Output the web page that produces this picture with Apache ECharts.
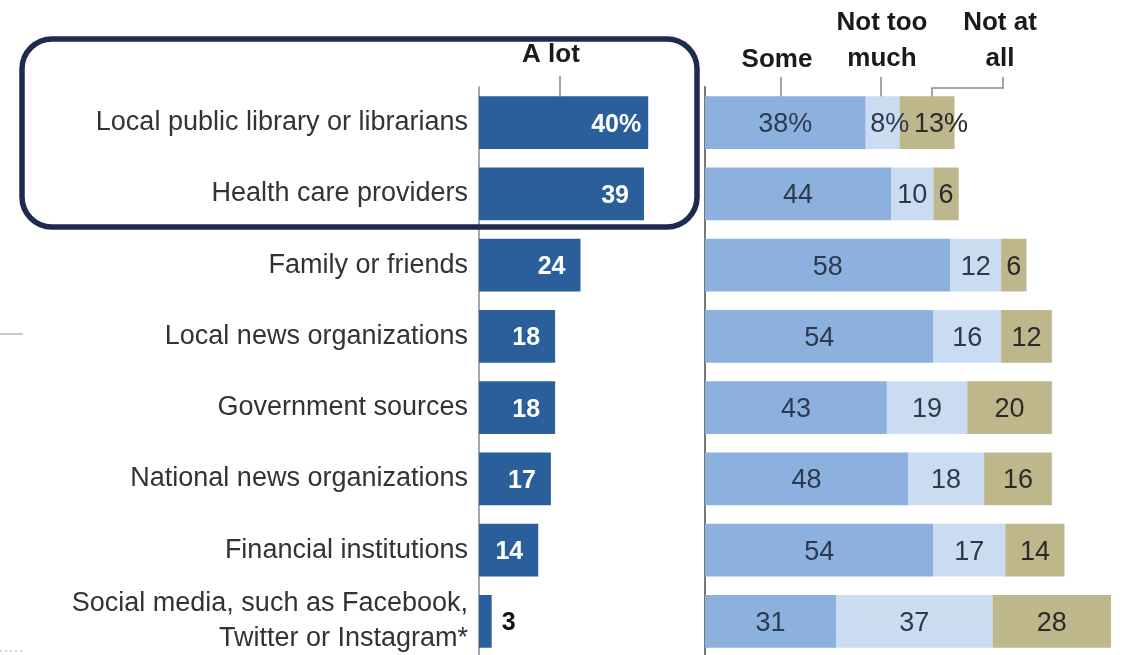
<!DOCTYPE html>
<html><head><meta charset="utf-8">
<script src="https://cdn.jsdelivr.net/npm/echarts@6/dist/echarts.min.js"></script>
<style>html,body{margin:0;padding:0;background:#fff}#c{width:1122px;height:655px}</style>
</head><body><div id="c"></div>
<script>
const categories = [
  "Local public library or librarians",
  "Health care providers",
  "Family or friends",
  "Local news organizations",
  "Government sources",
  "National news organizations",
  "Financial institutions",
  "Social media, such as Facebook,\nTwitter or Instagram*"
];
const aLot = [40, 39, 24, 18, 18, 17, 14, 3];
const some = [38, 44, 58, 54, 43, 48, 54, 31];
const notTooMuch = [8, 10, 12, 16, 19, 18, 17, 37];
const notAtAll = [13, 6, 6, 12, 20, 16, 14, 28];
const headers = ["A lot", "Some", "Not too\nmuch", "Not at\nall"];

const FONT = "Liberation Sans, Arial, sans-serif";
const chart = echarts.init(document.getElementById('c'), null, {renderer: 'canvas'});
const pct = (p) => p.dataIndex === 0 ? p.value + '%' : String(p.value);

const rightLabel = {show: true, position: 'inside', fontFamily: FONT, fontSize: 27, color: '#2c3a4e', formatter: pct, offset: [0, 2]};
const hdr = (t, x, y) => ({type: 'text', x: x, y: y, style: {text: t, fontFamily: FONT, fontWeight: 'bold', fontSize: 26, lineHeight: 36, fill: '#1a1a1a', align: 'center', verticalAlign: 'middle'}});
// first row: the "%" sign hangs outside the centred digits
const withPctOffset = (arr, dx) => arr.map((v, i) => i === 0 ? {value: v, label: {offset: [dx, 2]}} : v);

chart.setOption({
  animation: false,
  grid: [
    {left: 479, top: 87, width: 211.5, height: 570, containLabel: false, outerBoundsMode: 'none'},
    {left: 705, top: 87, width: 414.5, height: 570, containLabel: false, outerBoundsMode: 'none'}
  ],
  xAxis: [
    {gridIndex: 0, type: 'value', min: 0, max: 50, show: false},
    {gridIndex: 1, type: 'value', min: 0, max: 98, show: false}
  ],
  yAxis: [
    {gridIndex: 0, type: 'category', data: categories, inverse: true,
     axisLine: {show: true, lineStyle: {color: '#8a8a8a', width: 1.5}}, axisTick: {show: false},
     axisLabel: {margin: 11, fontFamily: FONT, fontSize: 27, color: '#333', lineHeight: 35, align: 'right', padding: [7, 0, 0, 0]}},
    {gridIndex: 1, type: 'category', data: categories, inverse: true,
     axisLine: {show: true, lineStyle: {color: '#777', width: 2}}, axisTick: {show: false}, axisLabel: {show: false}}
  ],
  series: [
    {name: headers[0], type: 'bar', xAxisIndex: 0, yAxisIndex: 0, barCategoryGap: '26%',
     itemStyle: {color: '#2b5f9c'},
     label: {show: true, position: 'insideRight', distance: 15, offset: [0, 2], fontFamily: FONT, fontWeight: 'bold', fontSize: 25, color: '#fff', formatter: pct},
     data: aLot.map((v, i) => {
       if (v < 6) return {value: v, label: {position: 'right', distance: 10, color: '#111'}};
       if (i === 0) return {value: v, label: {distance: 7}};
       return v;
     })},
    {name: headers[1], type: 'bar', stack: 'r', xAxisIndex: 1, yAxisIndex: 1, barCategoryGap: '26%',
     itemStyle: {color: '#8db1de'}, label: rightLabel, data: some},
    {name: headers[2], type: 'bar', stack: 'r', xAxisIndex: 1, yAxisIndex: 1, barCategoryGap: '26%',
     itemStyle: {color: '#cadcf1'}, label: rightLabel, data: withPctOffset(notTooMuch, 7)},
    {name: headers[3], type: 'bar', stack: 'r', xAxisIndex: 1, yAxisIndex: 1, barCategoryGap: '26%',
     itemStyle: {color: '#bfb78c'}, label: Object.assign({}, rightLabel, {color: '#2a2a2a'}), data: withPctOffset(notAtAll, 14)}
  ],
  graphic: [
    hdr(headers[0], 551, 55),
    {type: 'line', shape: {x1: 560, y1: 76, x2: 560, y2: 97}, style: {stroke: '#888', lineWidth: 1.5}},
    hdr(headers[1], 777, 60),
    {type: 'line', shape: {x1: 781, y1: 77, x2: 781, y2: 97}, style: {stroke: '#888', lineWidth: 1.5}},
    hdr(headers[2], 882, 41),
    {type: 'line', shape: {x1: 881, y1: 77, x2: 881, y2: 97}, style: {stroke: '#888', lineWidth: 1.5}},
    hdr(headers[3], 1000, 41),
    {type: 'polyline', shape: {points: [[1003, 77], [1003, 88], [932, 88], [932, 97]]}, style: {stroke: '#888', lineWidth: 1.5, fill: null}},
    {type: 'rect', shape: {x: 22, y: 39, width: 675, height: 188, r: 30}, style: {stroke: '#1c2b4e', lineWidth: 5.5, fill: null}, z: 100},
    {type: 'line', shape: {x1: 0, y1: 334, x2: 23, y2: 334}, style: {stroke: '#c8c8c8', lineWidth: 2}},
    {type: 'line', shape: {x1: 0, y1: 651, x2: 22, y2: 651}, style: {stroke: '#aaa', lineWidth: 1, lineDash: [2, 3]}}
  ]
});
</script></body></html>
